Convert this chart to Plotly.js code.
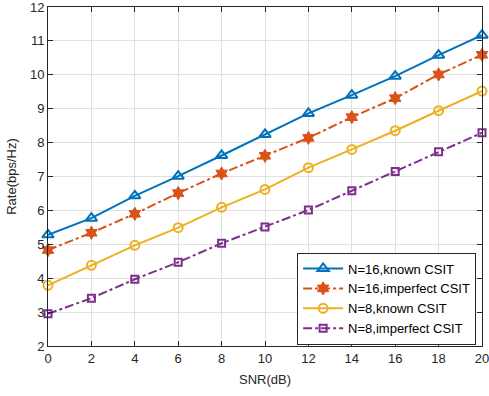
<!DOCTYPE html>
<html>
<head>
<meta charset="utf-8">
<script src="https://cdn.plot.ly/plotly-3.0.1.min.js"></script>
<style>html,body{margin:0;padding:0;background:#fff;}#chart{width:489px;height:396px;}</style>
</head>
<body>
<div id="chart"></div>
<script>
const snr = [0, 2, 4, 6, 8, 10, 12, 14, 16, 18, 20];
const n16Known = [5.28, 5.77, 6.43, 7.01, 7.62, 8.24, 8.86, 9.40, 9.96, 10.58, 11.17];
const n16Imperfect = [4.83, 5.34, 5.90, 6.51, 7.09, 7.61, 8.14, 8.75, 9.31, 10.01, 10.59];
const n8Known = [3.79, 4.38, 4.97, 5.49, 6.09, 6.62, 7.26, 7.80, 8.35, 8.94, 9.52];
const n8Imperfect = [2.95, 3.41, 3.97, 4.47, 5.03, 5.51, 6.01, 6.58, 7.15, 7.73, 8.29];
const names = ['N=16,known CSIT', 'N=16,imperfect CSIT', 'N=8,known CSIT', 'N=8,imperfect CSIT'];

const traces = [
  {x: snr, y: n16Known, name: names[0], mode: 'lines+markers', cliponaxis: false,
   line: {color: '#0072BD', width: 2, dash: 'solid'},
   marker: {symbol: 'triangle-up-open', size: 10, color: '#0072BD', line: {width: 2, color: '#0072BD'}}},
  {x: snr, y: n16Imperfect, name: names[1], mode: 'lines+markers', cliponaxis: false,
   line: {color: '#D95319', width: 2, dash: 'dashdot'},
   marker: {symbol: 'hexagram', size: 10, color: '#D95319', line: {width: 1, color: '#D95319'}}},
  {x: snr, y: n8Known, name: names[2], mode: 'lines+markers', cliponaxis: false,
   line: {color: '#EDB120', width: 2, dash: 'solid'},
   marker: {symbol: 'circle-open', size: 9, color: '#EDB120', line: {width: 2, color: '#EDB120'}}},
  {x: snr, y: n8Imperfect, name: names[3], mode: 'lines+markers', cliponaxis: false,
   line: {color: '#7E2F8E', width: 2, dash: 'dashdot'},
   marker: {symbol: 'square-open', size: 7, color: '#7E2F8E', line: {width: 2, color: '#7E2F8E'}}}
];

const axisCommon = {
  showline: true, linecolor: '#262626', linewidth: 1, mirror: 'allticks',
  ticks: 'inside', ticklen: 5, tickwidth: 1, tickcolor: '#262626',
  showgrid: true, gridcolor: '#e0e0e0', gridwidth: 1, zeroline: false,
  ticklabeloverflow: 'allow',
  tickfont: {family: 'Liberation Sans, Arial, sans-serif', size: 13, color: '#262626'}
};

const layout = {
  width: 489, height: 396,
  margin: {l: 48, r: 7, t: 7, b: 50},
  paper_bgcolor: '#fff', plot_bgcolor: '#fff',
  showlegend: true,
  xaxis: Object.assign({}, axisCommon, {
    range: [0, 20], tickvals: [0, 2, 4, 6, 8, 10, 12, 14, 16, 18, 20],
    title: {text: 'SNR(dB)', standoff: 10, font: {family: 'Liberation Sans, Arial, sans-serif', size: 13, color: '#262626'}}
  }),
  yaxis: Object.assign({}, axisCommon, {
    range: [2, 12], tickvals: [2, 3, 4, 5, 6, 7, 8, 9, 10, 11, 12],
    title: {text: 'Rate(bps/Hz)', standoff: 10, font: {family: 'Liberation Sans, Arial, sans-serif', size: 13, color: '#262626'}}
  }),
  legend: {
    x: 0.574, y: 0.14, xanchor: 'left', yanchor: 'middle',
    bgcolor: '#fff', bordercolor: '#262626', borderwidth: 1,
    font: {family: 'Liberation Sans, Arial, sans-serif', size: 13, color: '#000'},
    tracegroupgap: 0, itemwidth: 40
  }
};

Plotly.newPlot('chart', traces, layout, {displayModeBar: false, staticPlot: true});
</script>
</body>
</html>
